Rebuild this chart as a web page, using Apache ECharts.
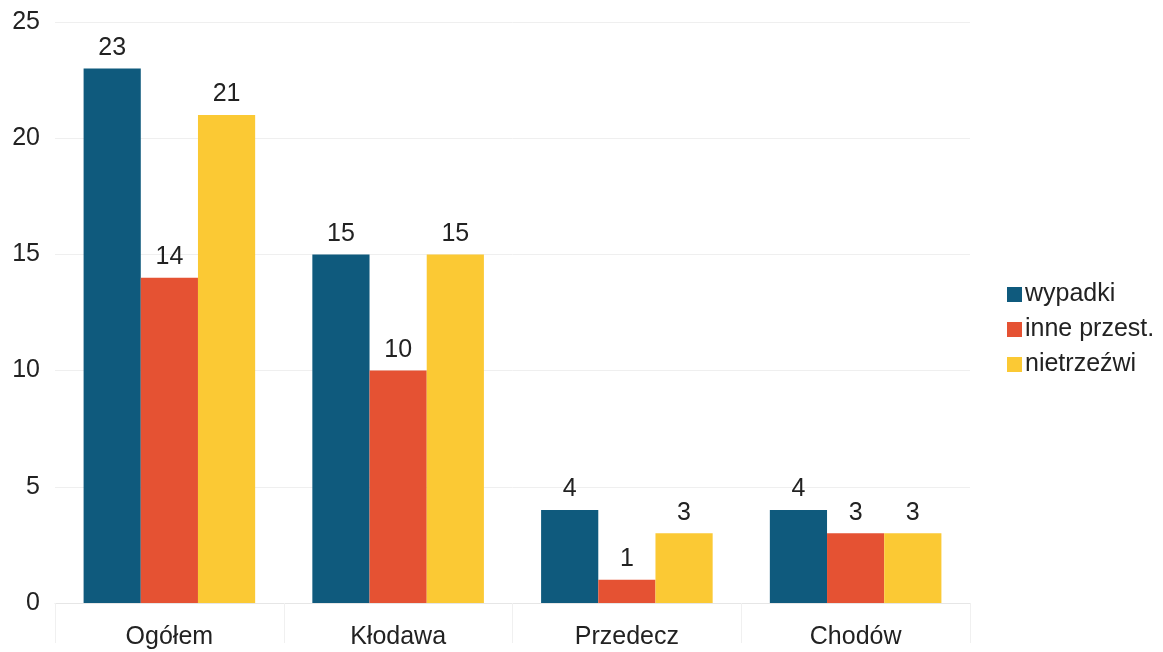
<!DOCTYPE html>
<html><head><meta charset="utf-8">
<script src="https://cdn.jsdelivr.net/npm/echarts@6/dist/echarts.min.js"></script>
<style>html,body{margin:0;padding:0;background:#fff}#c{width:1163px;height:652px}</style>
</head><body><div id="c"></div>
<script>
const categories = ['Ogółem', 'Kłodawa', 'Przedecz', 'Chodów'];
const wypadki = [23, 15, 4, 4];
const innePrzest = [14, 10, 1, 3];
const nietrzezwi = [21, 15, 3, 3];
const seriesNames = ['wypadki', 'inne przest.', 'nietrzeźwi'];
const colors = ['#0f5a7d', '#e55233', '#fbc934'];
const font = "'Liberation Sans', Arial, sans-serif";
const chart = echarts.init(document.getElementById('c'));
const mk = (name, data, color) => ({
  name, type: 'bar', data, barGap: '0%', barCategoryGap: '25%',
  itemStyle: { color },
  label: { show: true, position: 'top', distance: 8, fontSize: 25, color: '#222', fontFamily: font }
});
chart.setOption({
  animation: false,
  textStyle: { fontFamily: font },
  grid: { left: 55, right: 193, top: 22, bottom: 49, containLabel: false },
  legend: {
    orient: 'vertical', left: 1002, top: 277, itemWidth: 15, itemHeight: 15, itemGap: 10, itemStyle: { borderWidth: 0 },
    icon: 'rect', textStyle: { fontSize: 25, color: '#222', fontFamily: font, padding: [0, 0, 0, -2] },
    data: seriesNames
  },
  xAxis: {
    type: 'category', data: categories,
    axisLine: { show: true, lineStyle: { color: '#e6e6e6' } },
    axisTick: { show: true, length: 40, lineStyle: { color: '#f0f0f0' } },
    axisLabel: { fontSize: 25, color: '#222', margin: 22, fontFamily: font }
  },
  yAxis: {
    type: 'value', min: 0, max: 25, interval: 5,
    axisLine: { show: false }, axisTick: { show: false },
    splitLine: { lineStyle: { color: '#efefef' } },
    axisLabel: { fontSize: 25, color: '#222', margin: 15, fontFamily: font, align: 'right' }
  },
  series: [
    mk(seriesNames[0], wypadki, colors[0]),
    mk(seriesNames[1], innePrzest, colors[1]),
    mk(seriesNames[2], nietrzezwi, colors[2])
  ]
});
</script></body></html>
